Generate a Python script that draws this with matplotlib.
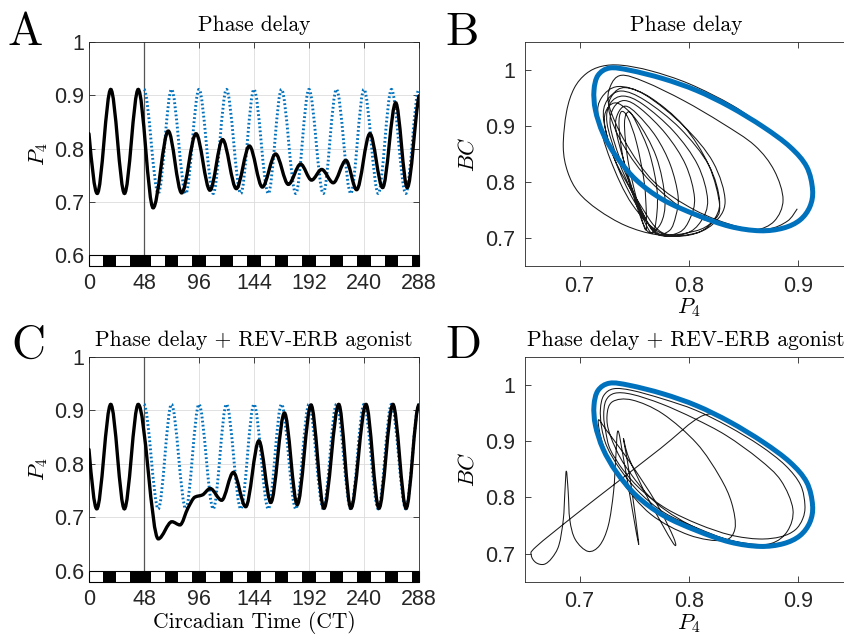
import matplotlib
matplotlib.use('Agg')
import matplotlib.pyplot as plt
from matplotlib.path import Path
from matplotlib.patches import PathPatch, Rectangle

plt.rcParams['mathtext.fontset'] = 'cm'
plt.rcParams['font.family'] = ['Liberation Sans', 'DejaVu Sans']

# ---- values ----
# panel A, black line: turning points (CT, P4)
a_t = [0, 7.2, 19.0, 31.0, 43.0, 56.0, 69.2, 80.9, 93.4, 105.6, 116.6, 128.6, 140.0, 151.3,
       162.9, 174.0, 184.7, 194.3, 203.1, 213.2, 224.3, 233.6, 245.2, 256.3, 267.7, 277.8, 288]
a_p4 = [0.828, 0.716, 0.911, 0.716, 0.911, 0.689, 0.833, 0.717, 0.828, 0.722, 0.817, 0.725, 0.805, 0.728,
        0.790, 0.733, 0.771, 0.741, 0.761, 0.736, 0.778, 0.723, 0.828, 0.727, 0.886, 0.727, 0.899]

# panel C, black line
c_t = [0, 6.8, 19.0, 30.9, 43.0, 60.5, 72.4, 79.4, 86.5, 92.5, 99.0, 105.8, 115.8, 126.0, 136.8,
       148.3, 158.7, 170.6, 181.8, 193.8, 205.1, 218.0, 228.6, 241.8, 253.1, 265.3, 276.8, 288]
c_p4 = [0.827, 0.716, 0.911, 0.716, 0.911, 0.660, 0.692, 0.686, 0.718, 0.738, 0.742, 0.754, 0.732, 0.784, 0.720,
        0.843, 0.728, 0.895, 0.724, 0.910, 0.717, 0.911, 0.717, 0.911, 0.717, 0.911, 0.717, 0.910]

# dotted blue reference (shifted rhythm), same in A and C
ref_t = [48, 60.5, 72, 84.5, 96, 108.5, 120, 132.5, 144, 156.5, 168, 180.5, 192, 204.5,
         216, 228.5, 240, 252.5, 264, 276.5, 288]
ref_p4 = [0.911, 0.716, 0.911, 0.716, 0.911, 0.716, 0.911, 0.716, 0.911, 0.716, 0.911, 0.716, 0.911, 0.716,
          0.911, 0.716, 0.911, 0.716, 0.911, 0.716, 0.911]

# light/dark bar
dark_start = [12, 36, 66, 90, 114, 138, 162, 186, 210, 234, 258, 282]
dark_end = [24, 54, 78, 102, 126, 150, 174, 198, 222, 246, 270, 288]

# limit cycle (P4, BC)
lc_p4 = [0.913, 0.9076, 0.8923, 0.8679, 0.8374, 0.8069, 0.7763, 0.7458, 0.7275, 0.7168, 0.7131,
         0.7144, 0.7214, 0.7336, 0.7519, 0.7763, 0.8069, 0.8374, 0.8648, 0.8862, 0.9015, 0.9106]
lc_bc = [0.786, 0.827, 0.8625, 0.898, 0.934, 0.963, 0.984, 0.999, 1.003, 0.990, 0.963,
         0.928, 0.886, 0.845, 0.803, 0.768, 0.741, 0.7205, 0.7128, 0.7176, 0.732, 0.756]

# panel B trajectory
b_p4 = [0.828, 0.807, 0.776, 0.746, 0.7275, 0.7168, 0.7131, 0.7144, 0.7214, 0.7336, 0.752, 0.776, 0.807,
        0.837, 0.865, 0.886, 0.9015, 0.9106, 0.913, 0.9076, 0.892, 0.868,
        0.84, 0.80, 0.765, 0.738, 0.72, 0.706, 0.695, 0.688, 0.685, 0.689, 0.699, 0.717, 0.742, 0.770,
        0.800, 0.822, 0.833, 0.822, 0.795, 0.760, 0.735, 0.720, 0.717, 0.728, 0.748, 0.775,
        0.805, 0.821, 0.828, 0.818, 0.792, 0.760, 0.738, 0.725, 0.722, 0.732, 0.750, 0.772,
        0.797, 0.811, 0.817, 0.808, 0.786, 0.758, 0.740, 0.728, 0.725, 0.735, 0.752, 0.770,
        0.791, 0.801, 0.805, 0.797, 0.779, 0.756, 0.741, 0.731, 0.728, 0.737, 0.753, 0.768,
        0.782, 0.788, 0.790, 0.783, 0.770, 0.753, 0.742, 0.735, 0.733, 0.740, 0.752, 0.764,
        0.769, 0.771, 0.764, 0.752, 0.745, 0.741, 0.744, 0.752, 0.760,
        0.761, 0.759, 0.752, 0.744, 0.738, 0.736, 0.740, 0.750, 0.762,
        0.774, 0.778, 0.770, 0.752, 0.735, 0.725, 0.723, 0.732, 0.752, 0.775,
        0.805, 0.822, 0.828, 0.818, 0.795, 0.765, 0.742, 0.730, 0.727, 0.740, 0.765, 0.800, 0.835, 0.860,
        0.878, 0.886, 0.878, 0.860, 0.830, 0.795, 0.760, 0.738, 0.728, 0.727, 0.742, 0.768, 0.805, 0.845,
        0.872, 0.890, 0.899]
b_bc = [0.944, 0.963, 0.984, 0.999, 1.003, 0.990, 0.963, 0.928, 0.886, 0.845, 0.803, 0.768, 0.741,
        0.7205, 0.7128, 0.7176, 0.732, 0.756, 0.786, 0.827, 0.8625, 0.898,
        0.936, 0.975, 0.998, 1.008, 1.006, 0.993, 0.967, 0.925, 0.8625, 0.818, 0.781, 0.750, 0.722, 0.706,
        0.705, 0.725, 0.765, 0.835, 0.900, 0.955, 0.970, 0.950, 0.915, 0.84, 0.76, 0.708,
        0.708, 0.728, 0.765, 0.83, 0.895, 0.945, 0.962, 0.945, 0.91, 0.84, 0.765, 0.708,
        0.708, 0.73, 0.768, 0.83, 0.89, 0.938, 0.953, 0.94, 0.905, 0.84, 0.765, 0.708,
        0.71, 0.735, 0.772, 0.83, 0.885, 0.93, 0.945, 0.932, 0.90, 0.84, 0.765, 0.71,
        0.713, 0.74, 0.775, 0.83, 0.88, 0.92, 0.935, 0.922, 0.895, 0.84, 0.765, 0.712,
        0.72, 0.78, 0.85, 0.905, 0.925, 0.905, 0.84, 0.77, 0.715,
        0.74, 0.80, 0.87, 0.915, 0.925, 0.90, 0.84, 0.77, 0.712,
        0.725, 0.77, 0.845, 0.91, 0.94, 0.93, 0.90, 0.84, 0.77, 0.71,
        0.712, 0.73, 0.758, 0.83, 0.90, 0.95, 0.968, 0.955, 0.925, 0.865, 0.80, 0.745, 0.72, 0.714,
        0.73, 0.768, 0.82, 0.865, 0.905, 0.945, 0.978, 0.99, 0.97, 0.935, 0.87, 0.80, 0.75, 0.72,
        0.716, 0.730, 0.752]

# panel D trajectory
d_p4 = [0.827, 0.807, 0.776, 0.746, 0.7275, 0.7168, 0.7131, 0.7144, 0.7214, 0.7336, 0.752, 0.776, 0.807,
        0.837, 0.865, 0.886, 0.9015, 0.9106, 0.913, 0.9076, 0.892, 0.868, 0.837, 0.813,
        0.774, 0.735, 0.696, 0.660,
        0.6558, 0.660, 0.6675, 0.6745, 0.681, 0.685, 0.6865, 0.6878, 0.6895, 0.691, 0.696, 0.7076, 0.7183,
        0.7262, 0.731, 0.733, 0.735,
        0.740, 0.748, 0.754, 0.750, 0.744, 0.740,
        0.745, 0.762, 0.785, 0.786, 0.770, 0.745, 0.725, 0.717,
        0.722, 0.738, 0.765, 0.800, 0.8313, 0.842, 0.839, 0.828, 0.807, 0.776, 0.748, 0.730, 0.725, 0.728,
        0.742, 0.770, 0.810, 0.850, 0.875, 0.890, 0.895,
        0.884, 0.864, 0.834, 0.805, 0.775, 0.748, 0.732, 0.724, 0.722, 0.724,
        0.728, 0.740, 0.757, 0.780, 0.809, 0.838, 0.864, 0.884, 0.897, 0.904, 0.906, 0.902, 0.888, 0.865,
        0.836, 0.806, 0.776, 0.748, 0.731, 0.722, 0.719, 0.720,
        0.725, 0.737, 0.755, 0.778, 0.808, 0.837, 0.865, 0.886, 0.9015, 0.9106, 0.913]
d_bc = [0.944, 0.963, 0.984, 0.999, 1.003, 0.990, 0.963, 0.928, 0.886, 0.845, 0.803, 0.768, 0.741,
        0.7205, 0.7128, 0.7176, 0.732, 0.756, 0.786, 0.827, 0.8625, 0.898, 0.934, 0.9456,
        0.887, 0.828, 0.769, 0.712,
        0.697, 0.684, 0.681, 0.692, 0.715, 0.76, 0.81, 0.847, 0.81, 0.76, 0.725, 0.704, 0.7146,
        0.75, 0.81, 0.87, 0.918,
        0.87, 0.78, 0.716, 0.78, 0.86, 0.905,
        0.87, 0.80, 0.72, 0.728, 0.79, 0.865, 0.918, 0.937,
        0.89, 0.83, 0.77, 0.733, 0.7234, 0.744, 0.79, 0.837, 0.896, 0.9485, 0.973, 0.970, 0.945, 0.91,
        0.855, 0.79, 0.742, 0.718, 0.718, 0.740, 0.779,
        0.83, 0.868, 0.91, 0.94, 0.966, 0.983, 0.985, 0.972, 0.945, 0.915,
        0.885, 0.848, 0.812, 0.779, 0.752, 0.733, 0.726, 0.73, 0.742, 0.762, 0.786, 0.822, 0.857, 0.892,
        0.926, 0.955, 0.975, 0.99, 0.993, 0.981, 0.957, 0.925,
        0.89, 0.85, 0.808, 0.772, 0.745, 0.724, 0.716, 0.72, 0.734, 0.757, 0.786]

BLUE = '#0072BD'
AX_GREY = '#262626'
SERIF = ['cmr10', 'DejaVu Serif']


def wave_path(ts, vs, s0=1.5, s1=0.6):
    # smooth curve through the turning points (flat at peaks and troughs)
    n = len(ts)
    d = [(vs[i + 1] - vs[i]) / (ts[i + 1] - ts[i]) for i in range(n - 1)]
    m = [0.0] * n
    for i in range(1, n - 1):
        if d[i - 1] * d[i] > 0:
            m[i] = 2 / (1 / d[i - 1] + 1 / d[i])
    m[0] = s0 * d[0]
    m[-1] = s1 * d[-1]
    verts = [(ts[0], vs[0])]
    codes = [Path.MOVETO]
    for i in range(n - 1):
        h = ts[i + 1] - ts[i]
        verts += [(ts[i] + h / 3, vs[i] + m[i] * h / 3),
                  (ts[i + 1] - h / 3, vs[i + 1] - m[i + 1] * h / 3),
                  (ts[i + 1], vs[i + 1])]
        codes += [Path.CURVE4] * 3
    return Path(verts, codes)


def loop_path(xs, ys, closed=False):
    # Catmull-Rom through the read points
    pts = list(zip(xs, ys))
    if closed:
        ext = [pts[-1]] + pts + [pts[0], pts[1]]
    else:
        ext = [pts[0]] + pts + [pts[-1]]
    verts = [ext[1]]
    codes = [Path.MOVETO]
    for i in range(1, len(ext) - 2):
        p0, p1, p2, p3 = ext[i - 1], ext[i], ext[i + 1], ext[i + 2]
        verts += [(p1[0] + (p2[0] - p0[0]) / 6, p1[1] + (p2[1] - p0[1]) / 6),
                  (p2[0] - (p3[0] - p1[0]) / 6, p2[1] - (p3[1] - p1[1]) / 6),
                  p2]
        codes += [Path.CURVE4] * 3
    return Path(verts, codes)


def style_axes(ax):
    ax.tick_params(direction='in', length=4, width=0.6, labelsize=15.5, colors=AX_GREY,
                   top=True, right=True)
    for s in ax.spines.values():
        s.set_color(AX_GREY)
        s.set_linewidth(0.6)


def time_panel(ax, ts, vs, end_slope, title):
    ax.set_xlim(0, 288)
    ax.set_ylim(0.58, 1.0)
    ax.set_xticks([0, 48, 96, 144, 192, 240, 288])
    ax.set_yticks([0.6, 0.7, 0.8, 0.9, 1.0])
    ax.set_yticklabels(['0.6', '0.7', '0.8', '0.9', '1'])
    ax.grid(True, color='#dcdcdc', linewidth=0.6)
    ax.set_axisbelow(True)
    style_axes(ax)
    ax.tick_params(axis='x', pad=5)
    ax.plot([48, 48], [0.6, 1.0], color='#555555', lw=0.9, zorder=2)
    ax.add_patch(PathPatch(wave_path(ref_t, ref_p4, 0, 0), fill=False, edgecolor=BLUE,
                           lw=2.1, linestyle=(0, (0.6, 0.8)), zorder=3))
    ax.add_patch(PathPatch(wave_path(ts, vs, 1.5, end_slope), fill=False, edgecolor='black',
                           lw=2.4, zorder=4, capstyle='round'))
    ax.add_patch(Rectangle((0, 0.58), 288, 0.02, facecolor='white', edgecolor='black',
                           lw=0.8, zorder=5, clip_on=False))
    for s, e in zip(dark_start, dark_end):
        ax.add_patch(Rectangle((s, 0.58), e - s, 0.02, facecolor='black', edgecolor='none', zorder=6))
    ax.set_ylabel('$P_4$', fontsize=16, labelpad=3)
    ax.set_title(title, fontfamily=SERIF, fontsize=15.5, pad=8)


def phase_panel(ax, xs, ys, title):
    ax.set_xlim(0.65, 0.95)
    ax.set_ylim(0.65, 1.05)
    ax.set_xticks([0.7, 0.8, 0.9])
    ax.set_yticks([0.7, 0.8, 0.9, 1.0])
    ax.set_yticklabels(['0.7', '0.8', '0.9', '1'])
    style_axes(ax)
    ax.tick_params(axis='x', pad=7)
    ax.tick_params(axis='y', pad=7)
    ax.add_patch(PathPatch(loop_path(xs, ys), fill=False, edgecolor='#1a1a1a', lw=0.75, zorder=3))
    ax.add_patch(PathPatch(loop_path(lc_p4, lc_bc, closed=True), fill=False, edgecolor=BLUE,
                           lw=3.6, zorder=4))
    ax.set_xlabel('$P_4$', fontsize=16, labelpad=0)
    ax.set_ylabel('$BC$', fontsize=16, labelpad=5)
    ax.set_title(title, fontfamily=SERIF, fontsize=15.5, pad=8, x=0.49)


fig = plt.figure(figsize=(8.45, 6.38), dpi=100)
ax_a = fig.add_axes([0.1053, 0.5831, 0.3905, 0.3511])
ax_b = fig.add_axes([0.6213, 0.5831, 0.3882, 0.3516])
ax_c = fig.add_axes([0.1053, 0.0882, 0.3905, 0.3527])
ax_d = fig.add_axes([0.6213, 0.0882, 0.3882, 0.3527])

time_panel(ax_a, a_t, a_p4, 0.6, 'Phase delay')
time_panel(ax_c, c_t, c_p4, 0.0, 'Phase delay + REV-ERB agonist')
ax_c.set_xlabel('Circadian Time (CT)', fontfamily=SERIF, fontsize=15.5, labelpad=1)
phase_panel(ax_b, b_p4, b_bc, 'Phase delay')
phase_panel(ax_d, d_p4, d_bc, 'Phase delay + REV-ERB agonist')

letter_kw = dict(fontfamily=SERIF, fontsize=34)
fig.text(0.009, 0.9295, 'A', **letter_kw)
fig.text(0.527, 0.9295, 'B', **letter_kw)
fig.text(0.013, 0.439, 'C', **letter_kw)
fig.text(0.527, 0.439, 'D', **letter_kw)

fig.savefig('out.png', dpi=100)
